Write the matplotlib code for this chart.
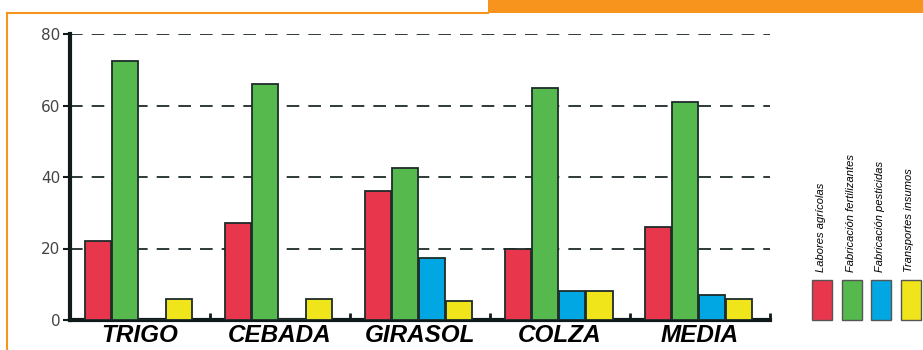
import matplotlib
matplotlib.use("Agg")
import matplotlib.pyplot as plt
from matplotlib.patches import Rectangle
from matplotlib.lines import Line2D
import numpy as np

# Cultivos y componentes de gasto energético
cultivos = ['TRIGO', 'CEBADA', 'GIRASOL', 'COLZA', 'MEDIA']
componentes = ['Labores agrícolas', 'Fabricación fertilizantes',
               'Fabricación pesticidas', 'Transportes insumos']

labores = [22, 27, 36, 20, 26]
fertilizantes = [72.5, 66, 42.5, 65, 61]
pesticidas = [0, 0.3, 17.3, 8, 7]
transportes = [6, 6, 5.2, 8, 6]

yticks = [0, 20, 40, 60, 80]

colores = ['#e8374c', '#55b94d', '#00a7e3', '#f0e41a']
borde = '#1e2b2b'
naranja = '#f7941d'

series = [labores, fertilizantes, pesticidas, transportes]

fig = plt.figure(figsize=(9.23, 3.5), dpi=100)
W, H = 923, 350

# marco naranja
fig.add_artist(Rectangle((488 / W, 1 - 13 / H), (W - 488) / W, 13 / H,
                         transform=fig.transFigure, color=naranja, lw=0))
fig.add_artist(Line2D([7 / W, 488 / W], [1 - 13 / H, 1 - 13 / H],
                      transform=fig.transFigure, color=naranja, lw=1.5))
fig.add_artist(Line2D([7 / W, 7 / W], [1 - 13 / H, 0],
                      transform=fig.transFigure, color=naranja, lw=1.5))

ax = fig.add_axes([70 / W, 30 / H, 700 / W, 286 / H])

x = np.arange(len(cultivos))
ancho = 0.19
offsets = [0.2, 0.392, 0.587, 0.78]
for serie, col, off in zip(series, colores, offsets):
    ax.bar(x + off, serie, width=ancho, color=col, edgecolor=borde, linewidth=1.3, zorder=3)

ax.set_xlim(0, 5)
ax.set_ylim(0, 80)

for yv in yticks[1:]:
    ax.axhline(yv, color=borde, lw=1.3, ls=(0, (7, 5)), zorder=1)

for s in ['top', 'right']:
    ax.spines[s].set_visible(False)
ax.spines['left'].set_linewidth(3)
ax.spines['bottom'].set_linewidth(3)
ax.spines['left'].set_color('#111a1a')
ax.spines['bottom'].set_color('#111a1a')

ax.set_yticks(yticks)
ax.set_yticklabels([str(v) for v in yticks], fontsize=11, color='#444444')
ax.tick_params(axis='y', length=5, width=1.5, color='#111a1a', pad=2)

ax.set_xticks(x + 0.5)
ax.set_xticklabels(cultivos, fontsize=17.5, fontweight='bold', fontstyle='italic',
                   family=['Liberation Sans', 'DejaVu Sans'], color='black')
ax.tick_params(axis='x', which='major', length=0, pad=3)
ax.set_xticks(np.arange(1, 6), minor=True)
ax.tick_params(axis='x', which='minor', direction='in', length=5, width=2, color='#111a1a')

# leyenda vertical a la derecha
for i, (nombre, col) in enumerate(zip(componentes, colores)):
    x0 = 812 + i * 29.5
    fig.add_artist(Rectangle((x0 / W, 1 - 320 / H), 20 / W, 40 / H,
                             transform=fig.transFigure, facecolor=col,
                             edgecolor='#555555', lw=1))
    fig.text((x0 + 9) / W, 1 - 272 / H, nombre, rotation=90, ha='center', va='bottom',
             fontsize=8, fontstyle='italic',
             family=['Liberation Sans Narrow', 'Liberation Sans', 'DejaVu Sans'],
             color='black')

fig.savefig('out.png', dpi=100)
